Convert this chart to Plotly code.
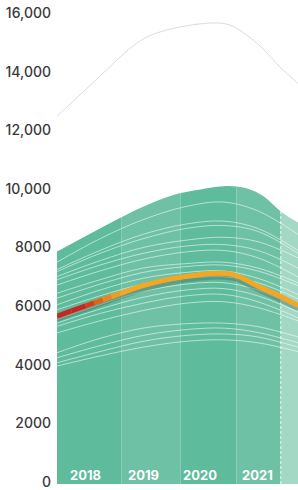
import plotly.graph_objects as go

# ---------------- data ----------------
years = [2018, 2019, 2020, 2021]
year_labels = ["2018", "2019", "2020", "2021"]

# outer envelope of the green area
env_x = [2017.5, 2018.25, 2019.0, 2019.54, 2020.0, 2020.45, 2020.8, 2021.1, 2021.4, 2021.7]
env_y = [7860, 8650, 9390, 9800, 9980, 10100, 10020, 9750, 9230, 8850]

# thin grey line (maximum)
max_x = [2017.5, 2018.24, 2018.81, 2019.11, 2019.65, 2020.24, 2020.51, 2020.98, 2021.38, 2021.7]
max_y = [12475, 13830, 14850, 15220, 15525, 15660, 15590, 14980, 14170, 13600]

# white series lines
wl_x = [2017.5, 2018.25, 2019.0, 2019.75, 2020.4, 2021.0, 2021.7]
wl_values = [
    [7500, 8300, 8950, 9400, 9550, 9250, 8450],
    [7250, 7900, 8450, 8800, 8900, 8650, 7900],
    [7180, 7800, 8300, 8650, 8750, 8550, 7800],
    [7010, 7550, 8000, 8250, 8350, 8200, 7650],
    [6900, 7400, 7800, 8050, 8100, 7900, 7300],
    [6720, 7200, 7600, 7850, 7900, 7650, 7000],
    [6440, 6900, 7300, 7450, 7500, 7300, 6800],
    [6270, 6750, 7150, 7350, 7400, 7200, 6700],
    [6045, 6550, 6950, 7150, 7200, 6950, 6400],
    [5875, 6350, 6750, 6950, 7000, 6800, 6250],
    [5540, 6050, 6500, 6750, 6800, 6550, 5950],
    [5420, 5900, 6300, 6550, 6600, 6350, 5800],
    [5310, 5750, 6100, 6350, 6400, 6150, 5600],
    [5085, 5500, 5850, 6100, 6150, 5950, 5500],
    [4410, 4900, 5250, 5400, 5420, 5300, 4950],
    [4240, 4650, 5000, 5200, 5250, 5100, 4750],
    [4070, 4450, 4800, 5000, 5050, 4950, 4600],
    [3955, 4300, 4600, 4800, 4850, 4750, 4450],
]

# highlighted series
hl_x = [2017.5, 2017.75, 2018.0, 2018.15, 2018.3, 2018.45, 2018.6, 2019.0, 2019.5,
        2020.0, 2020.3, 2020.6, 2021.0, 2021.35, 2021.7]
hl_y = [5660, 5840, 6010, 6115, 6220, 6325, 6430, 6700, 6930,
        7080, 7120, 7060, 6680, 6370, 6030]
# shadow / average line just below the highlight
avg_y = [5540, 5710, 5870, 5975, 6080, 6185, 6290, 6560, 6790,
         6940, 6980, 6920, 6540, 6230, 5900]

# background bands
band_edges = [2017.5, 2018.62, 2019.65, 2020.63, 2021.40, 2021.7]
band_colors = ["#5ebb9b", "#6fc1a5", "#5ebb9b", "#6fc1a5", "#a3d8c4"]
forecast_start = 2021.40

# y axis ticks
y_ticks = [0, 2000, 4000, 6000, 8000, 10000, 12000, 14000, 16000]
y_tick_text = ["0", "2000", "4000", "6000", "8000", "10,000", "12,000", "14,000", "16,000"]

# ---------------- figure ----------------
fig = go.Figure()

# white mask above the envelope (hides the bands outside the area)
fig.add_trace(go.Scatter(x=env_x, y=[17000] * len(env_x), mode="lines",
                         line=dict(width=0, color="white"), hoverinfo="skip",
                         showlegend=False))
fig.add_trace(go.Scatter(x=env_x, y=env_y, mode="lines", fill="tonexty",
                         fillcolor="white", line=dict(width=0, shape="spline", color="white"),
                         hoverinfo="skip", showlegend=False))

# white series lines
for vals in wl_values:
    fig.add_trace(go.Scatter(x=wl_x, y=vals, mode="lines",
                             line=dict(color="rgba(255,255,255,0.55)", width=1, shape="spline"),
                             hoverinfo="skip", showlegend=False))

# grey max line
fig.add_trace(go.Scatter(x=max_x, y=max_y, mode="lines",
                         line=dict(color="#dcdcdc", width=1, shape="spline"),
                         hoverinfo="skip", showlegend=False))

# shadow line
fig.add_trace(go.Scatter(x=hl_x, y=avg_y, mode="lines",
                         line=dict(color="rgba(70,115,105,0.45)", width=4, shape="spline"),
                         hoverinfo="skip", showlegend=False))

# highlighted orange line
fig.add_trace(go.Scatter(x=hl_x, y=hl_y, mode="lines",
                         line=dict(color="#f5a623", width=5, shape="spline"),
                         hoverinfo="skip", showlegend=False))

# red -> orange gradient at the start
seg_colors = ["#c2272a", "#c2272a", "#d0401f", "#dd621f", "#e98420", "#f09b22"]
for i, c in enumerate(seg_colors):
    fig.add_trace(go.Scatter(x=hl_x[i:i + 2], y=hl_y[i:i + 2], mode="lines",
                             line=dict(color=c, width=5),
                             hoverinfo="skip", showlegend=False))

# bands
shapes = []
for i, c in enumerate(band_colors):
    shapes.append(dict(type="rect", xref="x", yref="paper", x0=band_edges[i], x1=band_edges[i + 1],
                       y0=0, y1=1, fillcolor=c, line=dict(width=0), layer="below"))
shapes.append(dict(type="line", xref="x", yref="paper", x0=forecast_start, x1=forecast_start,
                   y0=0, y1=1, line=dict(color="rgba(255,255,255,0.8)", width=1, dash="3px,2px"),
                   layer="below"))

annotations = []
for yr, lab in zip(years, year_labels):
    annotations.append(dict(x=yr, y=240, xref="x", yref="y", text="<b>" + lab + "</b>",
                            showarrow=False, font=dict(family="Inter", size=13, color="white")))

fig.update_layout(
    width=298, height=490,
    margin=dict(l=57, r=0, t=13, b=3),
    paper_bgcolor="white", plot_bgcolor="white",
    shapes=shapes, annotations=annotations,
    showlegend=False,
    xaxis=dict(range=[2017.5, 2021.7], visible=False, showgrid=False, zeroline=False),
    yaxis=dict(range=[-68, 16000], tickvals=y_ticks, ticktext=y_tick_text,
               showgrid=False, zeroline=False, showline=False, ticks="",
               ticklabelstandoff=5, ticklabeloverflow="allow",
               tickfont=dict(family="Inter", size=14, color="#3a3a3a", weight=500)),
)

fig.write_html("out.html", config={"displayModeBar": False},
               post_script="document.body.style.margin='0';document.body.style.overflow='hidden';")
